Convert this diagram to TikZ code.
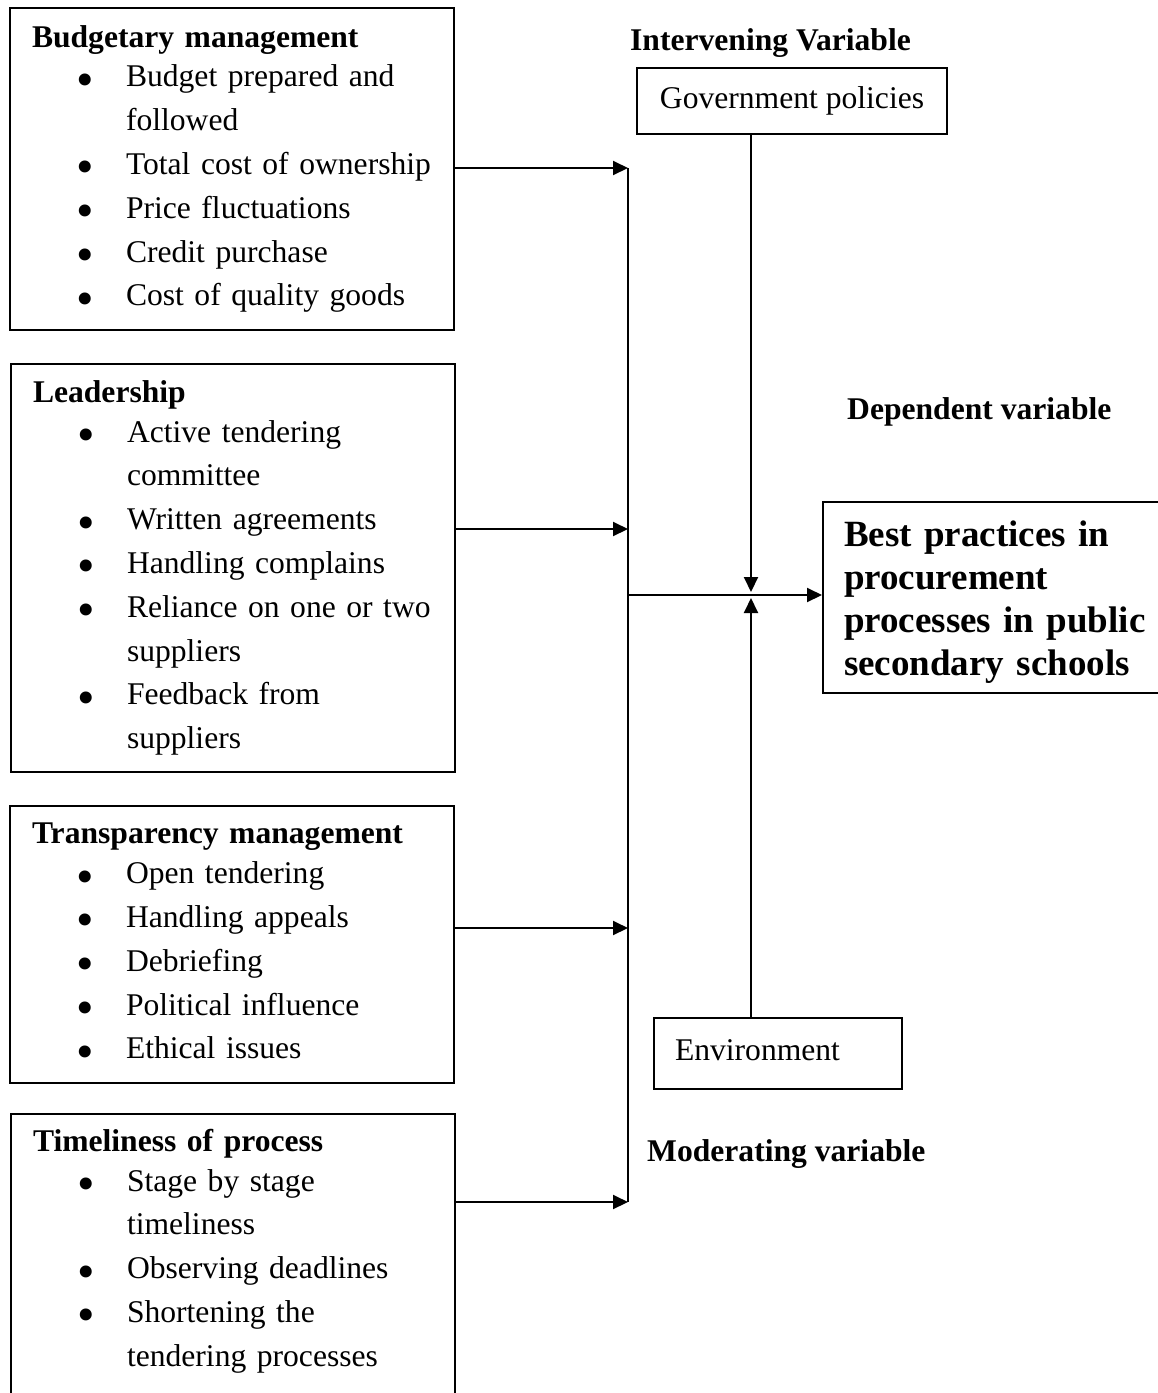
\documentclass[tikz,border=0pt]{standalone}
\usepackage{fontspec}
\setmainfont{Liberation Serif}
\usetikzlibrary{arrows.meta}

\newcommand{\bodyfont}{\fontsize{31.6pt}{43.8pt}\selectfont}
\newcommand{\bigbold}{\fontsize{37pt}{43pt}\selectfont\bfseries}
\newcommand{\hd}[1]{\textbf{#1}\\[-4pt]}
\newcommand{\dotmark}{\raisebox{-9.4pt}[0pt][0pt]{\fontsize{50pt}{0pt}\selectfont\textbullet}}
\newcommand{\itm}[1]{\hspace*{44pt}\makebox[50pt][l]{\dotmark}\mbox{#1}\rule[-7pt]{0pt}{0pt}}
\newcommand{\cont}[1]{\hspace*{94pt}\mbox{#1}\rule[-7pt]{0pt}{0pt}}

\tikzset{
  varbox/.style={draw, line width=2pt, anchor=north west, align=left, text width=400pt,
    inner xsep=22pt, inner ysep=0pt, font=\bodyfont},
  plainbox/.style={draw, line width=2pt, inner sep=0pt, font=\bodyfont},
  caption/.style={anchor=base west, inner sep=0pt, font=\bodyfont\bfseries},
  link/.style={line width=2pt, -{Triangle[length=15pt,width=14pt]}},
}

\begin{document}
\begin{tikzpicture}[x=1pt, y=-1pt]
\useasboundingbox (0,0) rectangle (1158,1393);
\clip (0,0) rectangle (1158,1393);

% independent variables
\node[varbox, minimum height=322pt] (budget) at (9,7) {\hd{Budgetary management}
\itm{Budget prepared and}\\
\cont{followed}\\
\itm{Total cost of ownership}\\
\itm{Price fluctuations}\\
\itm{Credit purchase}\\
\itm{Cost of quality goods}};

\node[varbox, minimum height=408pt] (leader) at (10,363) {\hd{Leadership}
\itm{Active tendering}\\
\cont{committee}\\
\itm{Written agreements}\\
\itm{Handling complains}\\
\itm{Reliance on one or two}\\
\cont{suppliers}\\
\itm{Feedback from}\\
\cont{suppliers}};

\node[varbox, minimum height=277pt] (transp) at (9,805) {\hd{Transparency management}
\itm{Open tendering}\\
\itm{Handling appeals}\\
\itm{Debriefing}\\
\itm{Political influence}\\
\itm{Ethical issues}};

\node[varbox, inner ysep=15pt] (timely) at (10,1113) {\hd{Timeliness of process}
\itm{Stage by stage}\\
\cont{timeliness}\\
\itm{Observing deadlines}\\
\itm{Shortening the}\\
\cont{tendering processes}\rule[-60pt]{0pt}{0pt}};

% intervening, moderating and dependent
\node[caption] (interv) at (630,50) {Intervening Variable};
\node[plainbox, minimum width=310pt, minimum height=66pt] (gov) at (792,101) {Government policies};
\node[caption] (dep) at (847,419) {Dependent variable};
\node[draw, line width=2pt, anchor=north west, minimum height=191pt, text width=311pt,
  inner xsep=21pt, inner ysep=0pt, align=left, font=\bigbold] (best) at (822,501)
  {\rule{0pt}{34pt}Best practices in\\ procurement\\ processes in public\\ secondary schools};
\node[plainbox, anchor=north west, minimum width=248pt, minimum height=71pt, align=left,
  text width=206pt, inner xsep=21pt] (env) at (653,1017) {Environment\rule[-7pt]{0pt}{0pt}};
\node[caption] (moder) at (647,1161) {Moderating variable};

% bus and arrows
\coordinate (bus1) at (628,168);
\coordinate (bus2) at (628,529);
\coordinate (bus3) at (628,928);
\coordinate (bus4) at (628,1202);
\coordinate (bus0) at (628,595);
\coordinate (meet) at (751,595);

\draw[line width=2pt] (bus1) -- (bus4);
\draw[link] (budget.east |- bus1) -- (bus1);
\draw[link] (leader.east |- bus2) -- (bus2);
\draw[link] (transp.east |- bus3) -- (bus3);
\draw[link] (timely.east |- bus4) -- (bus4);
\draw[link] (bus0) -- (best.west |- bus0);
\draw[link, shorten >=3pt] (gov.south -| meet) -- (meet);
\draw[link, shorten >=3pt] (env.north -| meet) -- (meet);

\end{tikzpicture}
\end{document}
